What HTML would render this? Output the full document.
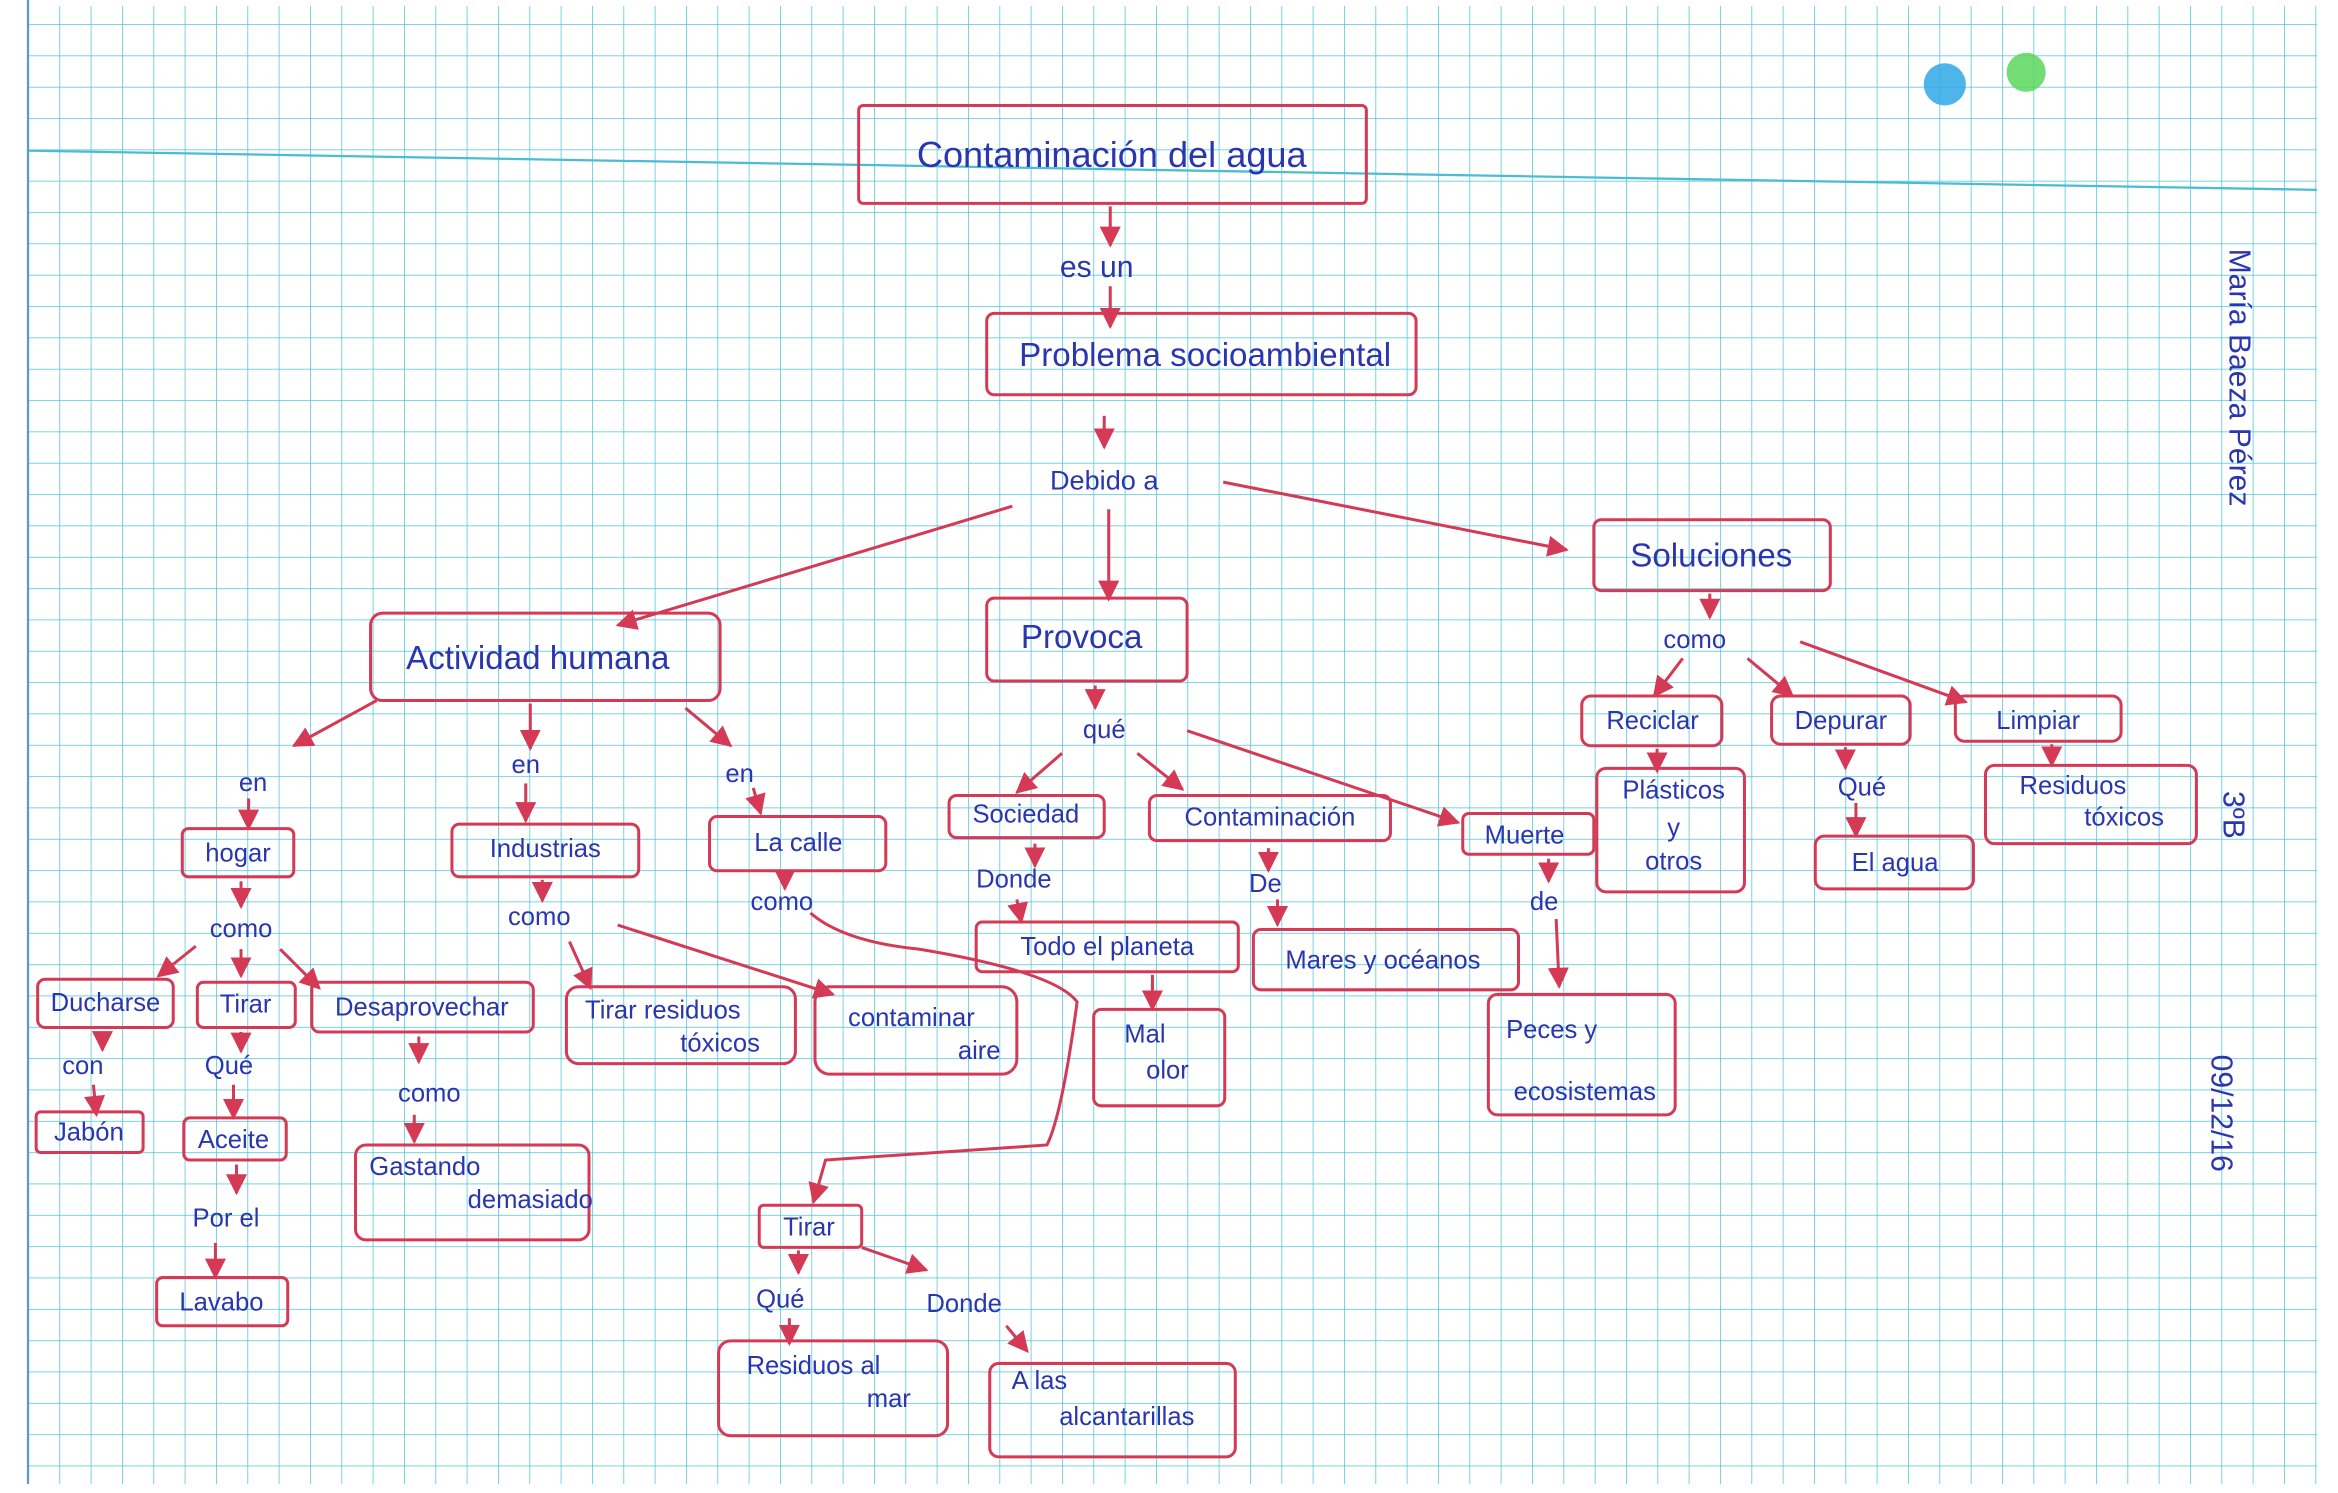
<!DOCTYPE html>
<html><head><meta charset="utf-8"><style>
html,body{margin:0;padding:0;background:#fff}
svg{display:block}
text{font-family:"Liberation Sans",sans-serif;fill:#2a36b0}
</style></head><body>
<svg width="2338" height="1493" viewBox="0 0 1552 991" preserveAspectRatio="none" xmlns="http://www.w3.org/2000/svg">
<defs>
<pattern id="g" x="18.6" y="16" width="20.8" height="20.8" patternUnits="userSpaceOnUse">
<path d="M0 0H20.8M0 0V20.8" stroke="#4cc4d8" stroke-width="1" fill="none"/>
</pattern>
<marker id="a" viewBox="0 0 10 10" refX="9" refY="5" markerWidth="7" markerHeight="7" orient="auto-start-reverse">
<path d="M0 0L10 5L0 10z" fill="#d43a55"/></marker>
</defs>
<rect x="0" y="0" width="1552" height="991" fill="#fff"/>
<rect x="18" y="4" width="1520" height="981" fill="url(#g)"/>
<line x1="18" y1="100" x2="1538" y2="126" stroke="#4cbcd2" stroke-width="1.5"/>
<line x1="18.6" y1="0" x2="18.6" y2="985" stroke="#5a9ad6" stroke-width="1.5"/>
<circle cx="1291" cy="56" r="14" fill="#2fa8e8" opacity="0.85"/>
<circle cx="1345" cy="48" r="13" fill="#5cd65c" opacity="0.85"/>
<g fill="none" stroke="#d43a55" stroke-width="2">
<rect x="570" y="70" width="337" height="65" rx="3"/>
<rect x="655" y="208" width="285" height="54" rx="5"/>
<rect x="1058" y="345" width="157" height="47" rx="5"/>
<rect x="246" y="407" width="232" height="58" rx="8"/>
<rect x="655" y="397" width="133" height="55" rx="5"/>
<rect x="1050" y="462" width="93" height="33" rx="6"/>
<rect x="1176" y="462" width="92" height="32" rx="6"/>
<rect x="1298" y="462" width="110" height="30" rx="6"/>
<rect x="1060" y="510" width="98" height="82" rx="6"/>
<rect x="1318" y="508" width="140" height="52" rx="6"/>
<rect x="1205" y="555" width="105" height="35" rx="6"/>
<rect x="630" y="528" width="103" height="28" rx="5"/>
<rect x="763" y="528" width="160" height="30" rx="5"/>
<rect x="971" y="540" width="87" height="27" rx="4"/>
<rect x="648" y="612" width="174" height="33" rx="4"/>
<rect x="832" y="617" width="176" height="40" rx="5"/>
<rect x="726" y="670" width="87" height="64" rx="5"/>
<rect x="988" y="660" width="124" height="80" rx="6"/>
<rect x="121" y="550" width="74" height="32" rx="4"/>
<rect x="300" y="547" width="124" height="35" rx="5"/>
<rect x="471" y="542" width="117" height="36" rx="5"/>
<rect x="25" y="650" width="90" height="32" rx="5"/>
<rect x="131" y="652" width="65" height="30" rx="4"/>
<rect x="207" y="652" width="147" height="33" rx="5"/>
<rect x="376" y="655" width="152" height="51" rx="8"/>
<rect x="541" y="655" width="134" height="58" rx="10"/>
<rect x="24" y="738" width="71" height="27" rx="3"/>
<rect x="122" y="742" width="68" height="28" rx="4"/>
<rect x="236" y="760" width="155" height="63" rx="7"/>
<rect x="104" y="848" width="87" height="32" rx="4"/>
<rect x="504" y="800" width="68" height="28" rx="3"/>
<rect x="477" y="890" width="152" height="63" rx="8"/>
<rect x="657" y="905" width="163" height="62" rx="6"/>
</g>
<g stroke="#d43a55" stroke-width="2" fill="none" marker-end="url(#a)">
<line x1="737" y1="137" x2="737" y2="163"/>
<line x1="737" y1="190" x2="737" y2="217"/>
<line x1="733" y1="276" x2="733" y2="297"/>
<line x1="812" y1="320" x2="1040" y2="365"/>
<line x1="672" y1="336" x2="410" y2="415"/>
<line x1="736" y1="338" x2="736" y2="398"/>
<line x1="1135" y1="394" x2="1135" y2="410"/>
<line x1="1117" y1="437" x2="1098" y2="462"/>
<line x1="1160" y1="437" x2="1190" y2="462"/>
<line x1="1195" y1="426" x2="1305" y2="466"/>
<line x1="1100" y1="497" x2="1100" y2="512"/>
<line x1="1225" y1="496" x2="1225" y2="510"/>
<line x1="1232" y1="533" x2="1232" y2="555"/>
<line x1="1362" y1="494" x2="1362" y2="508"/>
<line x1="727" y1="455" x2="727" y2="470"/>
<line x1="705" y1="500" x2="675" y2="526"/>
<line x1="755" y1="500" x2="785" y2="524"/>
<line x1="788" y1="485" x2="968" y2="546"/>
<line x1="687" y1="560" x2="687" y2="575"/>
<line x1="675" y1="597" x2="678" y2="612"/>
<line x1="842" y1="563" x2="842" y2="578"/>
<line x1="848" y1="597" x2="848" y2="614"/>
<line x1="1028" y1="570" x2="1028" y2="585"/>
<line x1="1033" y1="610" x2="1035" y2="655"/>
<line x1="765" y1="647" x2="765" y2="670"/>
<line x1="250" y1="465" x2="195" y2="495"/>
<line x1="352" y1="467" x2="352" y2="497"/>
<line x1="455" y1="470" x2="485" y2="495"/>
<line x1="165" y1="530" x2="165" y2="550"/>
<line x1="349" y1="520" x2="349" y2="545"/>
<line x1="500" y1="523" x2="505" y2="540"/>
<line x1="160" y1="585" x2="160" y2="602"/>
<line x1="360" y1="584" x2="360" y2="598"/>
<line x1="521" y1="580" x2="521" y2="590"/>
<line x1="130" y1="628" x2="105" y2="648"/>
<line x1="160" y1="630" x2="160" y2="648"/>
<line x1="186" y1="630" x2="212" y2="656"/>
<line x1="378" y1="625" x2="392" y2="656"/>
<line x1="410" y1="614" x2="553" y2="660"/>
<line x1="68" y1="685" x2="68" y2="697"/>
<line x1="62" y1="720" x2="64" y2="740"/>
<line x1="160" y1="685" x2="160" y2="698"/>
<line x1="155" y1="720" x2="155" y2="742"/>
<line x1="157" y1="773" x2="157" y2="792"/>
<line x1="143" y1="825" x2="143" y2="848"/>
<line x1="278" y1="688" x2="278" y2="705"/>
<line x1="275" y1="740" x2="275" y2="758"/>
<path d="M538 606 Q560 625 610 630 Q700 645 715 665 Q705 740 695 760 L548 770 L540 798"/>
<line x1="530" y1="830" x2="530" y2="845"/>
<line x1="572" y1="828" x2="615" y2="843"/>
<line x1="524" y1="875" x2="524" y2="892"/>
<line x1="668" y1="880" x2="682" y2="897"/>
</g>
<g text-anchor="middle" font-size="17">
<text x="738" y="111" font-size="24">Contaminación del agua</text>
<text x="728" y="184" font-size="20">es un</text>
<text x="800" y="243" font-size="22">Problema socioambiental</text>
<text x="733" y="325" font-size="18">Debido a</text>
<text x="1136" y="376" font-size="22">Soluciones</text>
<text x="357" y="444" font-size="22">Actividad humana</text>
<text x="718" y="430" font-size="22">Provoca</text>
<text x="1125" y="430">como</text>
<text x="1097" y="484">Reciclar</text>
<text x="1222" y="484">Depurar</text>
<text x="1353" y="484">Limpiar</text>
<text x="1111" y="530">Plásticos</text>
<text x="1111" y="555">y</text>
<text x="1111" y="577">otros</text>
<text x="1376" y="527">Residuos</text>
<text x="1410" y="548">tóxicos</text>
<text x="1236" y="528">Qué</text>
<text x="1258" y="578">El agua</text>
<text x="733" y="490">qué</text>
<text x="681" y="546">Sociedad</text>
<text x="843" y="548">Contaminación</text>
<text x="1012" y="560">Muerte</text>
<text x="673" y="589">Donde</text>
<text x="840" y="592">De</text>
<text x="1025" y="604">de</text>
<text x="735" y="634">Todo el planeta</text>
<text x="918" y="643">Mares y océanos</text>
<text x="760" y="692">Mal</text>
<text x="775" y="716">olor</text>
<text x="1030" y="689">Peces y</text>
<text x="1052" y="730">ecosistemas</text>
<text x="168" y="525">en</text>
<text x="349" y="513">en</text>
<text x="491" y="519">en</text>
<text x="158" y="572">hogar</text>
<text x="362" y="569">Industrias</text>
<text x="530" y="565">La calle</text>
<text x="160" y="622">como</text>
<text x="358" y="614">como</text>
<text x="519" y="604">como</text>
<text x="70" y="671">Ducharse</text>
<text x="163" y="672">Tirar</text>
<text x="280" y="674">Desaprovechar</text>
<text x="440" y="676">Tirar residuos</text>
<text x="478" y="698">tóxicos</text>
<text x="605" y="681">contaminar</text>
<text x="650" y="703">aire</text>
<text x="55" y="713">con</text>
<text x="152" y="713">Qué</text>
<text x="285" y="731">como</text>
<text x="59" y="757">Jabón</text>
<text x="155" y="762">Aceite</text>
<text x="282" y="780">Gastando</text>
<text x="352" y="802">demasiado</text>
<text x="150" y="814">Por el</text>
<text x="147" y="870">Lavabo</text>
<text x="537" y="820">Tirar</text>
<text x="518" y="868">Qué</text>
<text x="640" y="871">Donde</text>
<text x="540" y="912">Residuos al</text>
<text x="590" y="934">mar</text>
<text x="690" y="922">A las</text>
<text x="748" y="946">alcantarillas</text>
</g>
<g font-size="20" fill="#2a36b0">
<text transform="translate(1480,165) rotate(90)">María Baeza Pérez</text>
<text transform="translate(1476,525) rotate(90)">3ºB</text>
<text transform="translate(1468,700) rotate(90)">09/12/16</text>
</g>
</svg>
</body></html>
